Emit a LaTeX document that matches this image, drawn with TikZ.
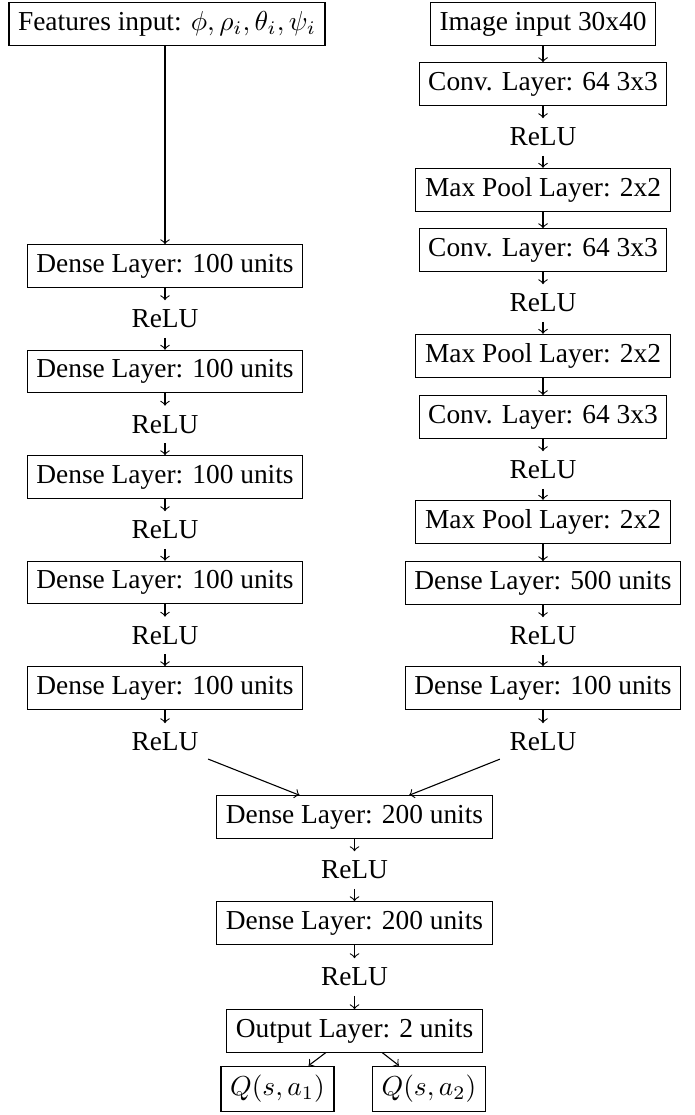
\documentclass[tikz,border=0pt]{standalone}
\usepackage{fontspec}
\setmainfont{Liberation Serif}
\begin{document}
\begin{tikzpicture}[x=0.365pt,y=-0.365pt,
  layer/.style={draw,rectangle,font=\fontsize{10}{12}\selectfont},
  act/.style={font=\fontsize{10}{12}\selectfont},
  conn/.style={->}]
\useasboundingbox (0,0) rectangle (694,1115);
% left column
\node[layer] (f) at (167,24) {Features input: $\phi,\rho_i,\theta_i,\psi_i$};
\node[layer] (l1) at (165,266) {Dense Layer: 100 units};
\node[act] (lr1) at (165,319) {ReLU};
\node[layer] (l2) at (165,371.5) {Dense Layer: 100 units};
\node[act] (lr2) at (165,424.5) {ReLU};
\node[layer] (l3) at (165,477) {Dense Layer: 100 units};
\node[act] (lr3) at (165,530) {ReLU};
\node[layer] (l4) at (165,582.5) {Dense Layer: 100 units};
\node[act] (lr4) at (165,635.5) {ReLU};
\node[layer] (l5) at (165,688) {Dense Layer: 100 units};
\node[act] (lr5) at (165,742) {ReLU};
% right column
\node[layer] (im) at (543,24) {Image input 30x40};
\node[layer] (c1) at (543,84) {Conv. Layer: 64 3x3};
\node[act] (rr1) at (543,137) {ReLU};
\node[layer] (p1) at (543,190) {Max Pool Layer: 2x2};
\node[layer] (c2) at (543,250) {Conv. Layer: 64 3x3};
\node[act] (rr2) at (543,303) {ReLU};
\node[layer] (p2) at (543,356) {Max Pool Layer: 2x2};
\node[layer] (c3) at (543,417) {Conv. Layer: 64 3x3};
\node[act] (rr3) at (543,470) {ReLU};
\node[layer] (p3) at (543,522) {Max Pool Layer: 2x2};
\node[layer] (d500) at (543,583) {Dense Layer: 500 units};
\node[act] (rr4) at (543,636) {ReLU};
\node[layer] (d100) at (543,688) {Dense Layer: 100 units};
\node[act] (rr5) at (543,742) {ReLU};
% bottom
\node[layer] (b1) at (354.5,817) {Dense Layer: 200 units};
\node[act] (br1) at (354.5,870) {ReLU};
\node[layer] (b2) at (354.5,923) {Dense Layer: 200 units};
\node[act] (br2) at (354.5,977) {ReLU};
\node[layer] (out) at (354.5,1031) {Output Layer: 2 units};
\node[layer] (q1) at (277.5,1089) {$Q(s,a_1)$};
\node[layer] (q2) at (429,1089) {$Q(s,a_2)$};
% connectors
\draw[conn] (f.south -| l1.north) -- (l1.north);
\draw[conn] (l1) -- (lr1);
\draw[conn] (lr1) -- (l2);
\draw[conn] (l2) -- (lr2);
\draw[conn] (lr2) -- (l3);
\draw[conn] (l3) -- (lr3);
\draw[conn] (lr3) -- (l4);
\draw[conn] (l4) -- (lr4);
\draw[conn] (lr4) -- (l5);
\draw[conn] (l5) -- (lr5);
\draw[conn] (im) -- (c1);
\draw[conn] (c1) -- (rr1);
\draw[conn] (rr1) -- (p1);
\draw[conn] (p1) -- (c2);
\draw[conn] (c2) -- (rr2);
\draw[conn] (rr2) -- (p2);
\draw[conn] (p2) -- (c3);
\draw[conn] (c3) -- (rr3);
\draw[conn] (rr3) -- (p3);
\draw[conn] (p3) -- (d500);
\draw[conn] (d500) -- (rr4);
\draw[conn] (rr4) -- (d100);
\draw[conn] (d100) -- (rr5);
\draw[conn] (lr5) -- (b1);
\draw[conn] (rr5) -- (b1);
\draw[conn] (b1) -- (br1);
\draw[conn] (br1) -- (b2);
\draw[conn] (b2) -- (br2);
\draw[conn] (br2) -- (out);
\draw[conn] (out) -- (q1);
\draw[conn] (out) -- (q2);
\end{tikzpicture}
\end{document}
